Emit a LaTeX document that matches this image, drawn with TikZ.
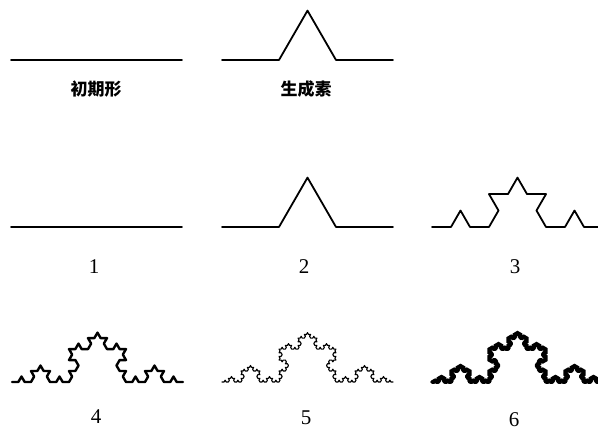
\documentclass[tikz,border=0pt]{standalone}
\usepackage{fontspec}
\setmainfont{Liberation Serif}
\newfontfamily\cjk{Noto Sans CJK SC}
\usetikzlibrary{lindenmayersystems}
\pgfdeclarelindenmayersystem{Koch}{\rule{F -> F+F--F+F}}
\begin{document}
\begin{tikzpicture}[x=1pt,y=1pt,
  curve/.style={line join=round,line cap=round},
  numlabel/.style={font=\fontsize{21}{23}\selectfont,inner sep=0pt},
  cnlabel/.style={font=\cjk\bfseries\fontsize{17}{19}\selectfont,inner sep=0pt}]
\clip (0,0) rectangle (598,430);
\fill[white] (0,0) rectangle (598,430);
% top row
\draw[curve,line width=1.8pt] (11,370) -- (182,370);
\begin{scope}[shift={(222,370)}]
\draw[curve,line width=1.8pt,lindenmayer system={Koch,axiom=F,order=1,step=57pt,angle=60}] lindenmayer system;
\end{scope}
\node[cnlabel] (init) at (96,341) {初期形};
\node[cnlabel] (gen) at (306,341) {生成素};
% row 2
\draw[curve,line width=1.8pt] (11,203) -- (182,203);
\begin{scope}[shift={(222,203)}]
\draw[curve,line width=1.8pt,lindenmayer system={Koch,axiom=F,order=1,step=57pt,angle=60}] lindenmayer system;
\end{scope}
\begin{scope}[shift={(432,203)}]
\draw[curve,line width=1.8pt,lindenmayer system={Koch,axiom=F,order=2,step=19pt,angle=60}] lindenmayer system;
\end{scope}
\node[numlabel] (n1) at (94,163) {1};
\node[numlabel] (n2) at (304,163) {2};
\node[numlabel] (n3) at (515,163) {3};
% row 3
\begin{scope}[shift={(12,48)}]
\draw[curve,line width=2.4pt,lindenmayer system={Koch,axiom=F,order=3,step=6.333pt,angle=60}] lindenmayer system;
\end{scope}
\begin{scope}[shift={(222,48)}]
\draw[curve,line width=1.1pt,lindenmayer system={Koch,axiom=F,order=4,step=2.111pt,angle=60}] lindenmayer system;
\end{scope}
\begin{scope}[shift={(432,48)}]
\draw[curve,line width=3.8pt,lindenmayer system={Koch,axiom=F,order=5,step=0.7037pt,angle=60}] lindenmayer system;
\end{scope}
\node[numlabel] (n4) at (96,13) {4};
\node[numlabel] (n5) at (306,12) {5};
\node[numlabel] (n6) at (514,10) {6};
\end{tikzpicture}
\end{document}
